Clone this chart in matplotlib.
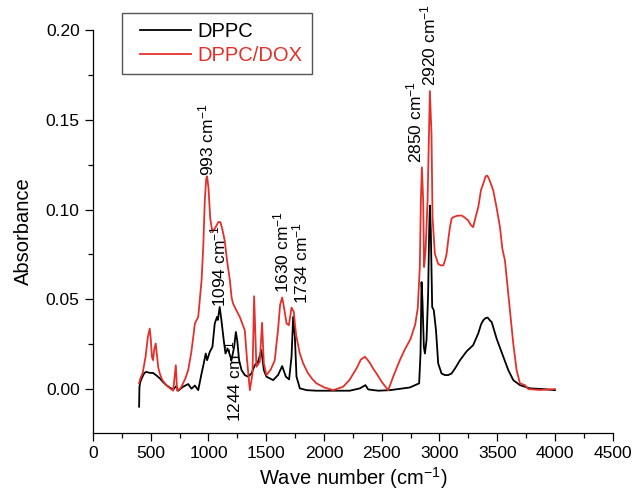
import matplotlib
matplotlib.use('Agg')
import matplotlib.pyplot as plt
from matplotlib.lines import Line2D
from matplotlib.legend_handler import HandlerLine2D
from matplotlib.ticker import MultipleLocator, FormatStrFormatter

plt.rcParams['font.family'] = ['Liberation Sans', 'DejaVu Sans']
plt.rcParams['mathtext.fontset'] = 'custom'
plt.rcParams['mathtext.rm'] = 'Liberation Sans'
plt.rcParams['mathtext.it'] = 'Liberation Sans:italic'
plt.rcParams['mathtext.bf'] = 'Liberation Sans:bold'

# ====== DATOS ======
# DPPC (negro)
wn_dppc = [399, 402, 410, 425, 445, 462, 480, 500, 520, 545, 578, 605, 635, 665, 694,
           722, 737, 780, 824, 853, 882, 911, 940, 959, 976, 988, 1011, 1034, 1054,
           1074, 1081, 1097, 1112, 1132, 1147, 1165, 1180, 1199, 1222, 1237, 1249,
           1265, 1286, 1314, 1343, 1372, 1401, 1429, 1458, 1479, 1502, 1560, 1602,
           1638, 1670, 1698, 1719, 1733, 1748, 1762, 1791, 1850, 1935, 2224, 2311,
           2359, 2383, 2469, 2571, 2744, 2824, 2836, 2845, 2853, 2865, 2874, 2888,
           2902, 2911, 2917, 2925, 2937, 2951, 2970, 2989, 3018, 3047, 3076, 3105,
           3140, 3177, 3235, 3292, 3336, 3360, 3379, 3400, 3418, 3440, 3452, 3495,
           3553, 3596, 3639, 3697, 3783, 3898, 4000]
abs_dppc = [-0.0098, 0.0013, 0.0040, 0.0065, 0.0090, 0.0096, 0.0092, 0.0090, 0.0090,
            0.0078, 0.0060, 0.0040, 0.0022, 0.0008, -0.0002, 0.0017, -0.0009, 0.0013,
            0.0028, 0.0002, 0.0020, -0.0006, 0.0087, 0.0143, 0.0198, 0.0161, 0.0207,
            0.0235, 0.0365, 0.0402, 0.0385, 0.0457, 0.0383, 0.0272, 0.0198, 0.0226,
            0.0200, 0.0161, 0.0235, 0.0318, 0.0270, 0.0161, 0.0106, 0.0078, 0.0069,
            0.0087, 0.0133, 0.0152, 0.0217, 0.0106, 0.0069, 0.0050, 0.0078, 0.0128,
            0.0069, 0.0054, 0.0180, 0.0402, 0.0290, 0.0069, 0.0004, -0.0006, -0.0009,
            -0.0009, 0.0004, 0.0022, -0.0002, -0.0009, -0.0006, 0.0009, 0.0032,
            0.0198, 0.0596, 0.0490, 0.0235, 0.0198, 0.0272, 0.0532, 0.0883, 0.1022,
            0.0883, 0.0457, 0.0439, 0.0328, 0.0143, 0.0087, 0.0078, 0.0078, 0.0087,
            0.0120, 0.0160, 0.0210, 0.0245, 0.0310, 0.0360, 0.0383, 0.0396, 0.0398,
            0.0380, 0.0374, 0.0281, 0.0180, 0.0106, 0.0050, 0.0022, 0.0004, 0.0000,
            -0.0006]

# DPPC/DOX (rojo)
wn_dox = [399, 410, 430, 455, 475, 491, 500, 510, 520, 530, 543, 555, 565, 578, 600,
          635, 665, 694, 717, 728, 750, 766, 800, 824, 850, 870, 882, 911, 925, 940,
          955, 968, 980, 988, 1000, 1015, 1034, 1060, 1085, 1103, 1120, 1140, 1160,
          1185, 1200, 1213, 1240, 1271, 1295, 1314, 1334, 1358, 1381, 1395, 1415,
          1444, 1464, 1479, 1502, 1540, 1574, 1590, 1602, 1620, 1638, 1655, 1676,
          1696, 1719, 1739, 1750, 1762, 1790, 1820, 1860, 1900, 1935, 2000, 2080,
          2166, 2220, 2282, 2320, 2354, 2375, 2397, 2430, 2455, 2500, 2556, 2600,
          2657, 2700, 2750, 2790, 2812, 2830, 2839, 2848, 2859, 2867, 2880, 2897,
          2917, 2931, 2940, 2960, 2989, 3010, 3033, 3050, 3062, 3080, 3091, 3105,
          3119, 3150, 3192, 3220, 3249, 3270, 3292, 3310, 3336, 3360, 3379, 3400,
          3414, 3430, 3466, 3495, 3524, 3545, 3567, 3604, 3639, 3668, 3697, 3740,
          3769, 3870, 4000]
abs_dox = [0.0032, 0.0060, 0.0090, 0.0180, 0.0290, 0.0337, 0.0280, 0.0180, 0.0161,
           0.0220, 0.0254, 0.0180, 0.0120, 0.0087, 0.0050, 0.0022, 0.0005, -0.0009,
           0.0133, -0.0009, 0.0000, 0.0013, 0.0060, 0.0106, 0.0200, 0.0300, 0.0365,
           0.0402, 0.0500, 0.0606, 0.0800, 0.1050, 0.1170, 0.1185, 0.1120, 0.0950,
           0.0874, 0.0900, 0.0930, 0.0930, 0.0890, 0.0828, 0.0720, 0.0606, 0.0510,
           0.0476, 0.0440, 0.0402, 0.0360, 0.0328, 0.0161, -0.0006, 0.0087, 0.0517,
           0.0124, 0.0152, 0.0369, 0.0143, 0.0078, 0.0110, 0.0161, 0.0260, 0.0328,
           0.0470, 0.0510, 0.0450, 0.0365, 0.0356, 0.0454, 0.0430, 0.0350, 0.0290,
           0.0200, 0.0143, 0.0090, 0.0055, 0.0032, 0.0010, -0.0006, 0.0013, 0.0050,
           0.0115, 0.0165, 0.0180, 0.0165, 0.0146, 0.0110, 0.0087, 0.0040, -0.0006,
           0.0070, 0.0161, 0.0220, 0.0280, 0.0360, 0.0450, 0.0680, 0.1050, 0.1235,
           0.1050, 0.0680, 0.0772, 0.1050, 0.1660, 0.1420, 0.0957, 0.0754, 0.0698,
           0.0689, 0.0689, 0.0720, 0.0754, 0.0850, 0.0902, 0.0950, 0.0957, 0.0965,
           0.0967, 0.0955, 0.0939, 0.0915, 0.0902, 0.0950, 0.1013, 0.1110, 0.1143,
           0.1185, 0.1189, 0.1170, 0.1106, 0.1010, 0.0902, 0.0780, 0.0717, 0.0476,
           0.0254, 0.0106, 0.0032, 0.0022, 0.0000, -0.0005, 0.0000]

# etiquetas de picos: (texto, x, y)
pico_txt = ['993', '1094', '1244', '1630', '1734', '2850', '2920']
pico_x = [982, 1083, 1219, 1632, 1797, 2787, 2903]
pico_y = [0.1185, 0.0458, -0.0182, 0.0533, 0.0473, 0.1257, 0.1688]

ROJO = '#e4302a'

fig = plt.figure(figsize=(6.38, 4.96), dpi=100)
ax = fig.add_axes([0.1458, 0.1276, 0.8145, 0.8119])

ax.plot(wn_dppc, abs_dppc, color='black', lw=1.3, label='DPPC')
ax.plot(wn_dox, abs_dox, color=ROJO, lw=1.3, label='DPPC/DOX')

####Etiquetas de picos####
for t, x, y in zip(pico_txt, pico_x, pico_y):
    ax.text(x, y, t + ' cm$^{-1}$', rotation=90, ha='center', va='bottom',
            fontsize=12.5)

ax.set_xlim(0, 4500)
ax.set_ylim(-0.0243, 0.2)
ax.xaxis.set_major_locator(MultipleLocator(500))
ax.xaxis.set_minor_locator(MultipleLocator(250))
ax.yaxis.set_major_locator(MultipleLocator(0.05))
ax.yaxis.set_minor_locator(MultipleLocator(0.025))
ax.yaxis.set_major_formatter(FormatStrFormatter('%.2f'))

ax.spines['top'].set_visible(False)
ax.spines['right'].set_visible(False)
for s in ['left', 'bottom']:
    ax.spines[s].set_linewidth(0.9)
ax.tick_params(which='major', direction='out', length=5.6, width=0.9,
               labelsize=12.5, pad=4)
ax.tick_params(which='minor', direction='out', length=3.4, width=0.9)

ax.set_xlabel('Wave number (cm$^{-1}$)', fontsize=14.5, labelpad=3)
ax.set_ylabel('Absorbance', fontsize=14.5, labelpad=9)

leg = ax.legend(loc='upper left', bbox_to_anchor=(0.0564, 1.043), borderaxespad=0,
                fontsize=14.5, frameon=True, fancybox=False, framealpha=1,
                edgecolor='#555555', borderpad=0.45, handlelength=2.95,
                handletextpad=0.35, labelspacing=0.25,
                handler_map={Line2D: HandlerLine2D(xpad=0.45)})
leg.get_frame().set_linewidth(1.0)
leg.get_texts()[1].set_color(ROJO)

fig.savefig('out.png', dpi=100)
